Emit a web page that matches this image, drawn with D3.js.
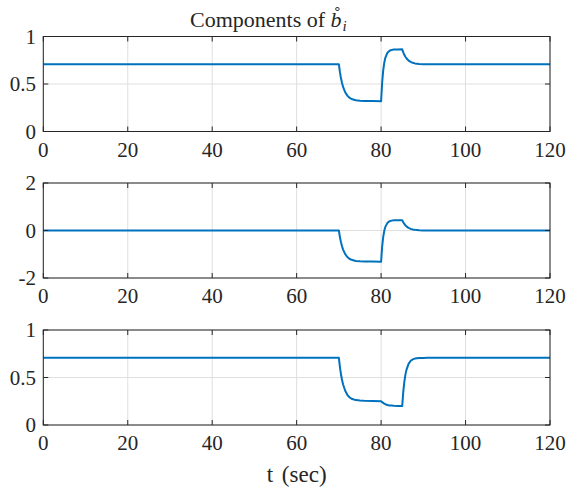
<!DOCTYPE html>
<html lang="en">
<head>
<meta charset="UTF-8">
<title>Components of b_i</title>
<script src="https://d3js.org/d3.v7.min.js"></script>
<style>
    body { margin: 0; background: #fff; }
    svg { display: block; }
    text { font-family: "Liberation Serif", "Times New Roman", Times, Tinos, "DejaVu Serif", "Noto Serif", "Nimbus Roman", FreeSerif, serif; fill: #262626; }
    .grid line { stroke: #dfdfdf; stroke-width: 1; }
    .box { fill: none; stroke: #262626; stroke-width: 1; }
    .tick-mark { stroke: #262626; stroke-width: 1; }
    .series { fill: none; stroke: #0072bd; stroke-width: 2; stroke-linejoin: round; }
</style>
</head>
<body>
<svg width="566" height="491"></svg>
<script>
// time samples (sec)
const time = [0, 70, 70.25, 70.5, 70.75, 71, 71.5, 72, 72.5, 73, 74, 75, 76, 78, 80,
    80.25, 80.5, 80.75, 81, 81.5, 82, 82.5, 83, 84, 85,
    85.25, 85.5, 85.75, 86, 86.5, 87, 87.5, 88, 89, 90, 91, 120];

// first component
const comp1 = [0.707, 0.707, 0.625, 0.560, 0.510, 0.469, 0.413, 0.378, 0.356, 0.342, 0.329, 0.323, 0.321, 0.320, 0.319,
    0.516, 0.643, 0.724, 0.776, 0.829, 0.850, 0.859, 0.862, 0.864, 0.865,
    0.833, 0.807, 0.787, 0.771, 0.747, 0.733, 0.723, 0.717, 0.711, 0.709, 0.708, 0.707];

// second component
const comp2 = [0, 0, -0.278, -0.496, -0.668, -0.804, -0.996, -1.115, -1.189, -1.235, -1.281, -1.299, -1.305, -1.31, -1.315,
    -0.676, -0.270, -0.013, 0.152, 0.321, 0.389, 0.416, 0.427, 0.433, 0.435,
    0.347, 0.276, 0.220, 0.175, 0.111, 0.070, 0.045, 0.028, 0.011, 0.005, 0.002, 0];

// third component
const comp3 = [0.707, 0.707, 0.610, 0.534, 0.474, 0.426, 0.360, 0.318, 0.292, 0.276, 0.262, 0.257, 0.255, 0.253, 0.250,
    0.241, 0.232, 0.225, 0.219, 0.211, 0.206, 0.204, 0.202, 0.200, 0.199,
    0.348, 0.453, 0.528, 0.580, 0.644, 0.676, 0.691, 0.699, 0.705, 0.706, 0.707, 0.707];

const xTicks = [0, 20, 40, 60, 80, 100, 120];
const yTicks1 = [0, 0.5, 1];
const yTicks2 = [-2, 0, 2];
const yTicks3 = [0, 0.5, 1];
const yLabels1 = ["0", "0.5", "1"];
const yLabels2 = ["-2", "0", "2"];
const yLabels3 = ["0", "0.5", "1"];

const svg = d3.select("svg");
const left = 43.3, right = 550, plotH = 95;
const tickLen = 5;

const x = d3.scaleLinear().domain([0, 120]).range([left, right]);

const panels = [
    { top: 36.5, values: comp1, domain: [0, 1], ticks: yTicks1, labels: yLabels1 },
    { top: 183, values: comp2, domain: [-2, 2], ticks: yTicks2, labels: yLabels2 },
    { top: 330, values: comp3, domain: [0, 1], ticks: yTicks3, labels: yLabels3 }
];

panels.forEach(p => {
    const y = d3.scaleLinear().domain(p.domain).range([p.top + plotH, p.top]);
    const g = svg.append("g");

    // grid
    const grid = g.append("g").attr("class", "grid");
    grid.selectAll(".gx").data(xTicks).enter().append("line")
        .attr("x1", d => x(d)).attr("x2", d => x(d))
        .attr("y1", p.top).attr("y2", p.top + plotH);
    grid.selectAll(".gy").data(p.ticks).enter().append("line")
        .attr("x1", left).attr("x2", right)
        .attr("y1", d => y(d)).attr("y2", d => y(d));

    // series
    const line = d3.line().x((d, i) => x(time[i])).y(d => y(d));
    g.append("path").attr("class", "series").attr("d", line(p.values));

    // box
    g.append("rect").attr("class", "box")
        .attr("x", left).attr("y", p.top)
        .attr("width", right - left).attr("height", plotH);

    // inward ticks on all four sides
    xTicks.forEach(t => {
        g.append("line").attr("class", "tick-mark")
            .attr("x1", x(t)).attr("x2", x(t))
            .attr("y1", p.top + plotH).attr("y2", p.top + plotH - tickLen);
        g.append("line").attr("class", "tick-mark")
            .attr("x1", x(t)).attr("x2", x(t))
            .attr("y1", p.top).attr("y2", p.top + tickLen);
    });
    p.ticks.forEach(t => {
        g.append("line").attr("class", "tick-mark")
            .attr("x1", left).attr("x2", left + tickLen)
            .attr("y1", y(t)).attr("y2", y(t));
        g.append("line").attr("class", "tick-mark")
            .attr("x1", right).attr("x2", right - tickLen)
            .attr("y1", y(t)).attr("y2", y(t));
    });

    // tick labels
    g.selectAll(".xl").data(xTicks).enter().append("text")
        .attr("x", d => x(d)).attr("y", p.top + plotH + 25)
        .attr("text-anchor", "middle").attr("font-size", 21)
        .text(d => d);
    g.selectAll(".yl").data(p.ticks).enter().append("text")
        .attr("x", 36).attr("y", d => y(d) + 7)
        .attr("text-anchor", "end").attr("font-size", 21)
        .text((d, i) => p.labels[i]);
});

// title
const title = svg.append("text").attr("x", 190).attr("y", 27).attr("font-size", 22);
title.append("tspan").text("Components of ");
title.append("tspan").attr("font-style", "italic").text("b\u030A");
title.append("tspan").attr("font-size", 15).attr("font-style", "italic").attr("dx", 1).attr("dy", 4).text("i");

// x label
svg.append("text").attr("x", x(60)).attr("y", 482)
    .attr("text-anchor", "middle").attr("font-size", 23)
    .attr("word-spacing", 3)
    .text("t (sec)");
</script>
</body>
</html>
